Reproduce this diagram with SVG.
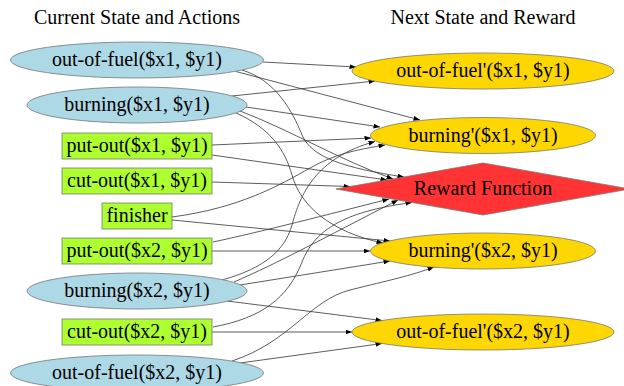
<svg xmlns="http://www.w3.org/2000/svg" width="624" height="386" viewBox="0 0 624 386">
<defs>
<marker id="ah" markerUnits="userSpaceOnUse" markerWidth="7" markerHeight="5" refX="6.5" refY="2.5" orient="auto">
<path d="M0,0 L6.5,2.5 L0,5 z" fill="#000"/>
</marker>
<style>
text{font-family:"Liberation Serif","Times New Roman",serif;font-size:20px;text-anchor:middle;fill:#000}
.cur{fill:#add8e6;stroke:#777;stroke-width:0.8}
.act{fill:#adff2f;stroke:#777;stroke-width:0.8}
.nxt{fill:#ffd700;stroke:#777;stroke-width:0.8}
.rew{fill:#ff3333;stroke:#777;stroke-width:0.8}
.e{fill:none;stroke:#333;stroke-width:0.8;marker-end:url(#ah)}
</style>
</defs>
<rect width="624" height="386" fill="#fff"/>
<text x="137" y="24">Current State and Actions</text>
<text x="483" y="24">Next State and Reward</text>
<g id="connectors">
<path class="e" d="M263,62 L356,67"/>
<path class="e" d="M236,71.5 L420,120"/>
<path class="e" d="M242,70 C275,80 292,110 302,135 C312,158 345,168 404,177"/>
<path class="e" d="M232,96 L375,81"/>
<path class="e" d="M246,107 L380,127"/>
<path class="e" d="M240,111 C290,130 340,160 393,179"/>
<path class="e" d="M236,113 C270,128 285,150 292,175 C300,205 330,232 383,243"/>
<path class="e" d="M212,145 L371,138"/>
<path class="e" d="M212,155 L387,180"/>
<path class="e" d="M212,182 L350,186.5"/>
<path class="e" d="M172,217 C240,208 280,185 310,168 C335,154 355,150 385,145"/>
<path class="e" d="M172,220 L390,241"/>
<path class="e" d="M212,251 L370,251"/>
<path class="e" d="M213,242 C260,232 330,214 389,199"/>
<path class="e" d="M222,280 C265,268 285,250 292,225 C300,195 315,158 375,141.5"/>
<path class="e" d="M234,282 C280,262 320,240 398,200"/>
<path class="e" d="M240,285 L390,261"/>
<path class="e" d="M227,301 L382,320.5"/>
<path class="e" d="M212,332 L352,332"/>
<path class="e" d="M213,327 C262,318 288,298 302,262 C314,232 340,212 412,202.5"/>
<path class="e" d="M232,361 C290,342 310,300 350,290 S410,276 434,267"/>
<path class="e" d="M240,363 L382,343.5"/>
</g>
<g id="oof_x1_y1"><ellipse class="cur" cx="137" cy="60" rx="126.5" ry="18"/><text x="137" y="66">out-of-fuel($x1, $y1)</text></g>
<g id="burning_x1_y1"><ellipse class="cur" cx="137" cy="105" rx="110" ry="18"/><text x="137" y="111">burning($x1, $y1)</text></g>
<g id="putout_x1_y1"><rect class="act" x="62" y="133" width="150" height="26"/><text x="137" y="152">put-out($x1, $y1)</text></g>
<g id="cutout_x1_y1"><rect class="act" x="62" y="168" width="150" height="26"/><text x="137" y="187">cut-out($x1, $y1)</text></g>
<g id="finisher"><rect class="act" x="102" y="203" width="70" height="26"/><text x="137" y="222">finisher</text></g>
<g id="putout_x2_y1"><rect class="act" x="62" y="238" width="150" height="26"/><text x="137" y="257">put-out($x2, $y1)</text></g>
<g id="burning_x2_y1"><ellipse class="cur" cx="137" cy="291" rx="110" ry="18"/><text x="137" y="297">burning($x2, $y1)</text></g>
<g id="cutout_x2_y1"><rect class="act" x="62" y="319" width="150" height="26"/><text x="137" y="338">cut-out($x2, $y1)</text></g>
<g id="oof_x2_y1"><ellipse class="cur" cx="137" cy="373" rx="126.5" ry="18"/><text x="137" y="379">out-of-fuel($x2, $y1)</text></g>
<g id="oofp_x1_y1"><ellipse class="nxt" cx="483" cy="71" rx="131" ry="18"/><text x="483" y="77">out-of-fuel'($x1, $y1)</text></g>
<g id="burningp_x1_y1"><ellipse class="nxt" cx="483" cy="135.5" rx="112.5" ry="18"/><text x="483" y="141.5">burning'($x1, $y1)</text></g>
<g id="reward"><polygon class="rew" points="336,189 483,163 630,189 483,215"/><text x="483" y="195">Reward Function</text></g>
<g id="burningp_x2_y1"><ellipse class="nxt" cx="483" cy="251" rx="112.5" ry="18"/><text x="483" y="257">burning'($x2, $y1)</text></g>
<g id="oofp_x2_y1"><ellipse class="nxt" cx="483" cy="332" rx="131" ry="18"/><text x="483" y="338">out-of-fuel'($x2, $y1)</text></g>
</svg>
